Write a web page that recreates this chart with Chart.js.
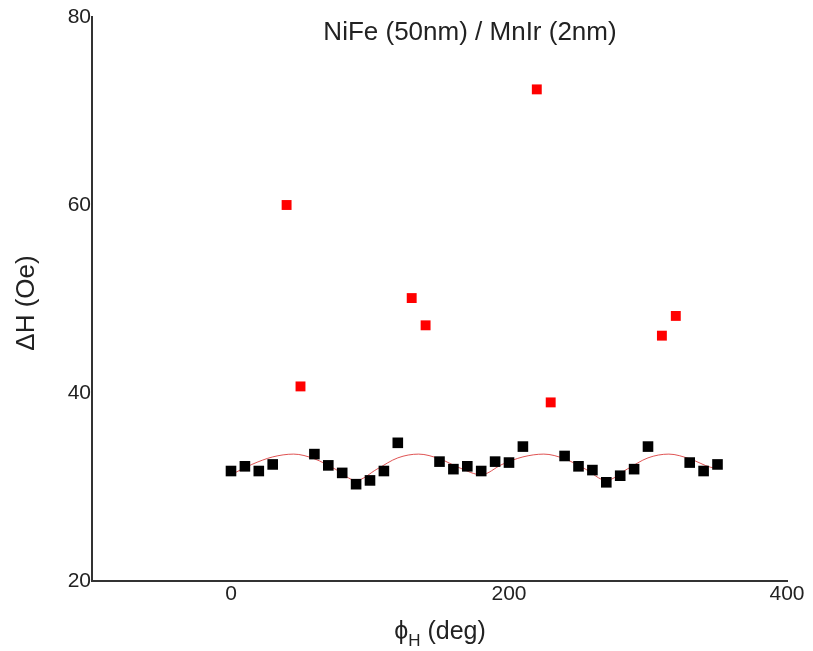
<!DOCTYPE html>
<html>
<head>
<meta charset="utf-8">
<script src="https://cdn.jsdelivr.net/npm/chart.js@4"></script>
<style>
  body { margin: 0; background: #fff; }
  #wrap { width: 813px; height: 651px; position: relative; }
</style>
</head>
<body>
<div id="wrap"><canvas id="chart"></canvas></div>
<script>
// measured linewidth vs field angle
const blackAngles = [0, 10, 20, 30, 60, 70, 80, 90, 100, 110, 120, 150, 160, 170, 180, 190, 200, 210, 240, 250, 260, 270, 280, 290, 300, 330, 340, 350];
const blackDH = [31.7, 32.2, 31.7, 32.4, 33.5, 32.3, 31.5, 30.3, 30.7, 31.7, 34.7, 32.7, 31.9, 32.2, 31.7, 32.7, 32.6, 34.3, 33.3, 32.2, 31.8, 30.5, 31.2, 31.9, 34.3, 32.6, 31.7, 32.4];

// outliers (red)
const redAngles = [40, 50, 130, 140, 220, 230, 310, 320];
const redDH = [60.0, 40.7, 50.1, 47.2, 72.3, 39.0, 46.1, 48.2];

// fit curve
const fitAngles = [0, 15, 30, 45, 60, 75, 90, 105, 120, 135, 150, 165, 180, 195, 210, 225, 240, 255, 270, 285, 300, 315, 330, 345, 350];
const fitDH = [31.3, 32.4, 33.2, 33.5, 33.0, 31.9, 30.7, 31.9, 33.1, 33.5, 33.0, 32.0, 31.3, 32.4, 33.2, 33.5, 33.0, 31.9, 30.7, 31.9, 33.1, 33.5, 33.0, 32.1, 32.0];

const xTicks = [0, 200, 400];
const yTicks = [20, 40, 60, 80];

const toPts = (xs, ys) => xs.map((x, i) => ({ x: x, y: ys[i] }));

const FONT = "'Liberation Sans', Arial, sans-serif";

// title and axis titles (x title has a subscript)
const labelsPlugin = {
  id: 'labels',
  afterDraw(chart) {
    const ctx = chart.ctx;
    ctx.save();
    ctx.fillStyle = '#222';
    ctx.textBaseline = 'middle';

    // title inside the plot
    ctx.font = '26px ' + FONT;
    ctx.textAlign = 'center';
    ctx.fillText('NiFe (50nm) / MnIr (2nm)', 470, 33);

    // x title: phi_H (deg)
    const main1 = '\u03D5';
    const sub = 'H';
    const main2 = ' (deg)';
    ctx.font = '25px ' + FONT;
    const w1 = ctx.measureText(main1).width;
    const w3 = ctx.measureText(main2).width;
    ctx.font = '17px ' + FONT;
    const w2 = ctx.measureText(sub).width;
    let x = 440 - (w1 + w2 + w3) / 2;
    const y = 632;
    ctx.textAlign = 'left';
    ctx.font = '25px ' + FONT;
    ctx.fillText(main1, x, y);
    x += w1;
    ctx.font = '17px ' + FONT;
    ctx.fillText(sub, x, y + 9);
    x += w2;
    ctx.font = '25px ' + FONT;
    ctx.fillText(main2, x, y);

    // y title
    ctx.translate(27, 303);
    ctx.rotate(-Math.PI / 2);
    ctx.textAlign = 'center';
    ctx.font = '26px ' + FONT;
    ctx.fillText('\u0394H (Oe)', 0, 0);
    ctx.restore();
  }
};

new Chart(document.getElementById('chart'), {
  type: 'scatter',
  data: {
    datasets: [
      {
        data: toPts(blackAngles, blackDH),
        pointStyle: 'rect',
        pointRadius: 7.5,
        backgroundColor: '#000',
        borderColor: '#000',
        borderWidth: 0
      },
      {
        data: toPts(redAngles, redDH),
        pointStyle: 'rect',
        pointRadius: 7,
        backgroundColor: '#ff0000',
        borderColor: '#ff0000',
        borderWidth: 0
      },
      {
        data: toPts(fitAngles, fitDH),
        showLine: true,
        pointRadius: 0,
        borderColor: 'rgba(215, 40, 40, 0.8)',
        borderWidth: 1,
        cubicInterpolationMode: 'monotone'
      }
    ]
  },
  options: {
    responsive: true,
    maintainAspectRatio: false,
    animation: false,
    layout: { padding: { top: 17, right: 26, left: 0, bottom: 0 } },
    plugins: {
      legend: { display: false },
      tooltip: { enabled: false }
    },
    scales: {
      x: {
        type: 'linear',
        min: -100,
        max: 400,
        afterBuildTicks: (scale) => { scale.ticks = xTicks.map(v => ({ value: v })); },
        afterFit: (scale) => { scale.height = 70; },
        grid: { display: false, drawTicks: false },
        border: { display: true, color: '#333', width: 2 },
        ticks: { color: '#222', font: { family: FONT, size: 21 }, padding: 1, maxRotation: 0 }
      },
      y: {
        type: 'linear',
        min: 20,
        max: 80,
        afterBuildTicks: (scale) => { scale.ticks = yTicks.map(v => ({ value: v })); },
        afterFit: (scale) => { scale.width = 92; },
        grid: { display: false, drawTicks: false },
        border: { display: true, color: '#333', width: 2 },
        ticks: { color: '#222', font: { family: FONT, size: 21 }, padding: 1 }
      }
    }
  },
  plugins: [labelsPlugin]
});
</script>
</body>
</html>
